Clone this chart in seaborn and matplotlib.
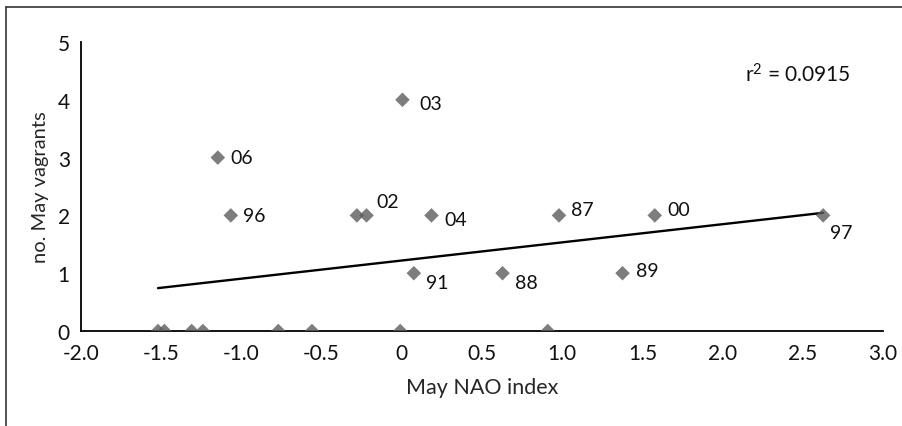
import matplotlib
matplotlib.use("Agg")
import matplotlib.pyplot as plt
from matplotlib.lines import Line2D
import seaborn as sns
import pandas as pd

# Data
nao = [-1.52, -1.48, -1.31, -1.24, -0.77, -0.56, -0.01, 0.91,
       0.075, 0.628, 1.376,
       -1.066, -0.28, -0.22, 0.185, 0.98, 1.577, 2.627,
       -1.147, 0.004]
vagrants = [0, 0, 0, 0, 0, 0, 0, 0,
            1, 1, 1,
            2, 2, 2, 2, 2, 2, 2,
            3, 4]
year_labels = ["", "", "", "", "", "", "", "",
               "91", "88", "89",
               "96", "", "02", "04", "87", "00", "97",
               "06", "03"]
x_ticks = [-2.0, -1.5, -1.0, -0.5, 0, 0.5, 1.0, 1.5, 2.0, 2.5, 3.0]
x_tick_labels = ["-2.0", "-1.5", "-1.0", "-0.5", "0", "0.5", "1.0", "1.5", "2.0", "2.5", "3.0"]
y_ticks = [0, 1, 2, 3, 4, 5]
r2_text = r"r$^{2}$ = 0.0915"

# label offsets (points) – style only
offsets = {"91": (9, -7), "88": (9, -7), "89": (10, 2), "96": (9, 0),
           "02": (7, 10), "04": (9, -3), "87": (9, 4), "00": (9, 4),
           "97": (5, -12), "06": (9, 0), "03": (12, -3)}

df = pd.DataFrame({"nao": nao, "vagrants": vagrants, "label": year_labels})

sns.set_theme(style="white")
plt.rcParams["font.family"] = ["Lato", "DejaVu Sans"]
plt.rcParams["mathtext.fontset"] = "custom"
plt.rcParams["mathtext.rm"] = "Lato"
plt.rcParams["mathtext.it"] = "Lato"
plt.rcParams["mathtext.default"] = "rm"

fig = plt.figure(figsize=(9.03, 4.27), dpi=100)
ax = fig.add_axes([81 / 903, 1 - 332 / 427, (883 - 81) / 903, (332 - 43) / 427])

sns.regplot(data=df, x="nao", y="vagrants", ax=ax, ci=None, marker="D",
            scatter_kws=dict(s=55, color="#5c5c5c", edgecolor="none", zorder=3),
            line_kws=dict(color="black", lw=1.7, zorder=2))

for xv, yv, lab in zip(nao, vagrants, year_labels):
    if lab:
        dx, dy = offsets.get(lab, (9, 0))
        ax.annotate(lab, (xv, yv), xytext=(dx, dy), textcoords="offset points",
                    ha="left", va="center", fontsize=14, color="#111111")

ax.text((745 - 81) / 802, (332 - 75) / 289, r2_text, transform=ax.transAxes,
        ha="left", va="center", fontsize=15, color="#111111")

ax.set_xlim(-2.0, 3.0)
ax.set_ylim(0, 5)
ax.set_xticks(x_ticks)
ax.set_xticklabels(x_tick_labels)
ax.set_yticks(y_ticks)
ax.set_xlabel("May NAO index", fontsize=15.5, labelpad=10)
ax.set_ylabel("no. May vagrants", fontsize=14.5, labelpad=6)
ax.tick_params(axis="both", direction="out", length=4, width=1, colors="black",
               labelsize=15, labelcolor="#111111", pad=4)
ax.tick_params(axis="x", length=4, pad=5)
for side in ["top", "right"]:
    ax.spines[side].set_visible(False)
for side in ["left", "bottom"]:
    ax.spines[side].set_color("black")
    ax.spines[side].set_linewidth(1.3)
ax.grid(False)

# partial outer frame (left and top edges)
fig.add_artist(Line2D([6.5 / 903, 6.5 / 903], [0, 1 - 8 / 427], transform=fig.transFigure,
                      color="#333333", lw=1.2))
fig.add_artist(Line2D([6.5 / 903, 1], [1 - 8 / 427, 1 - 8 / 427], transform=fig.transFigure,
                      color="#333333", lw=1.2))

fig.savefig("out.png", dpi=100)
